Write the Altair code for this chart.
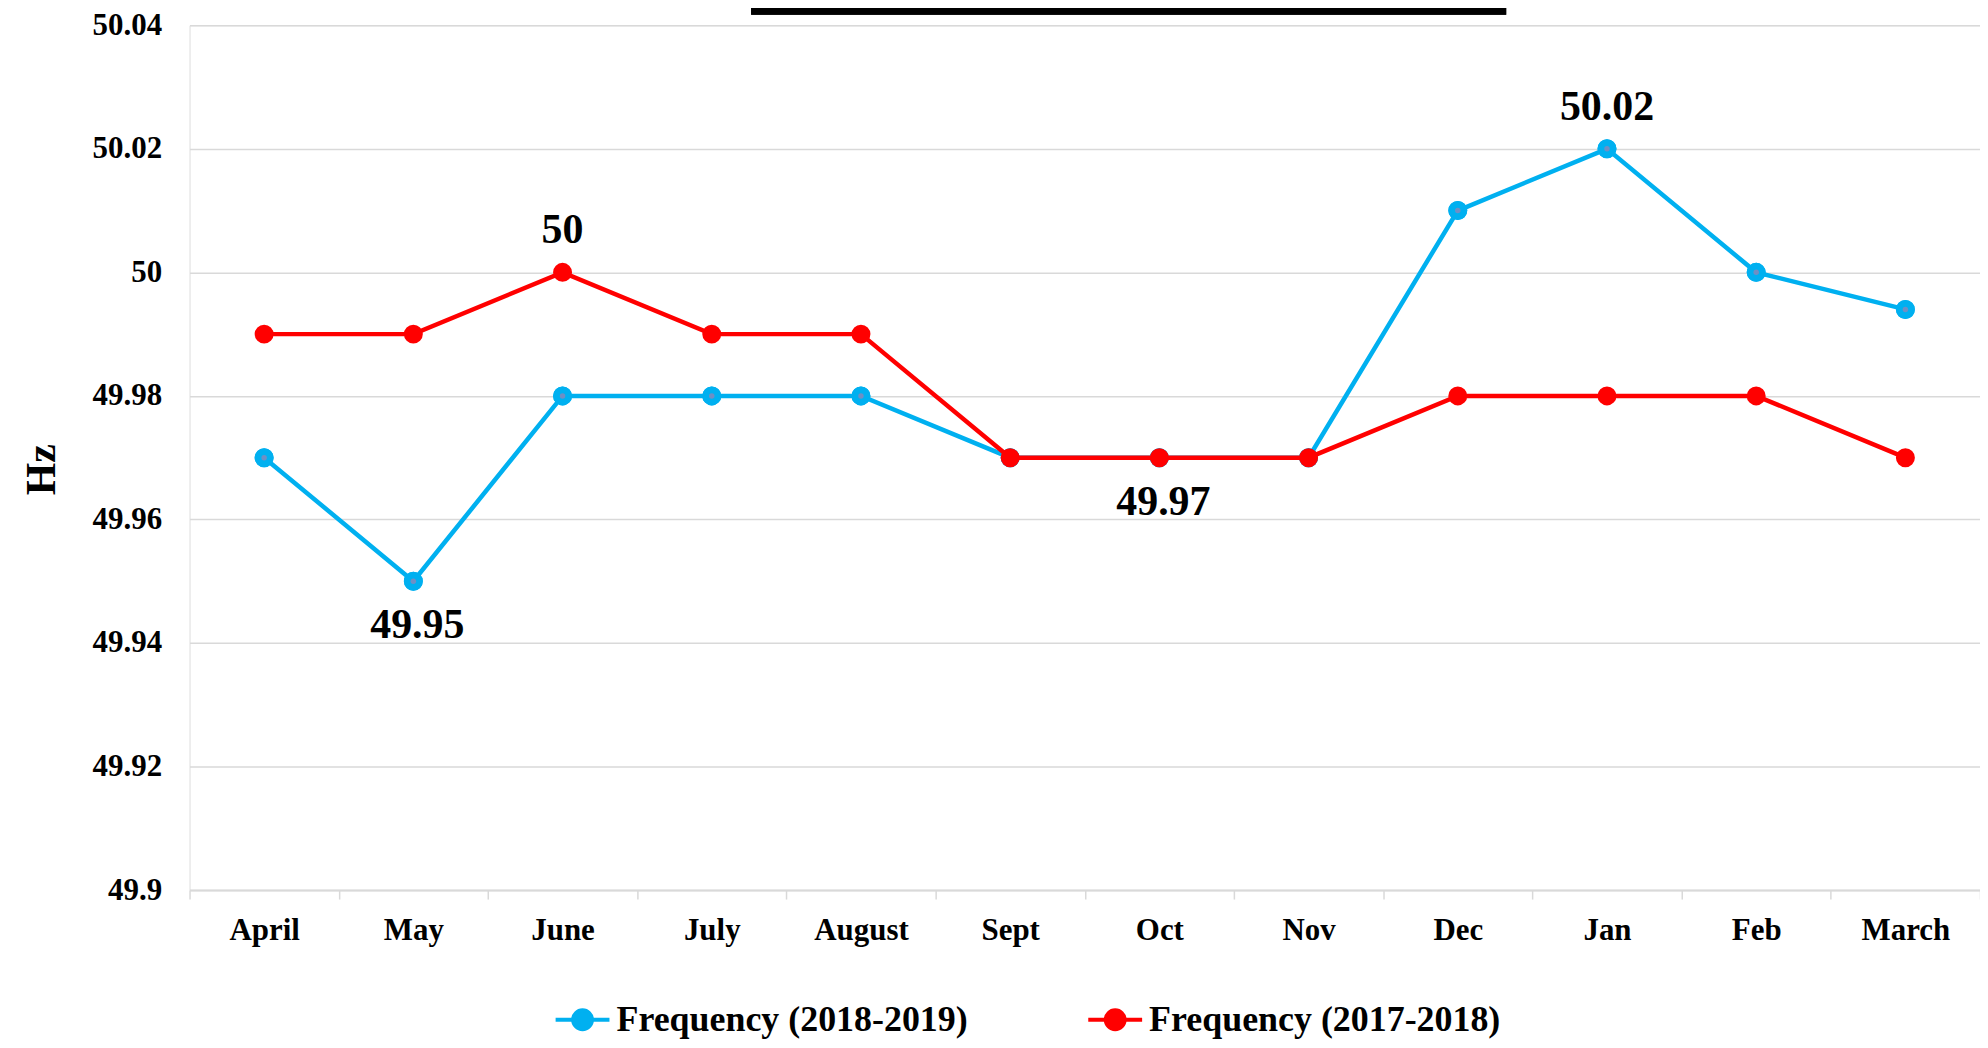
import altair as alt
import pandas as pd

months = ["April", "May", "June", "July", "August", "Sept", "Oct", "Nov", "Dec", "Jan", "Feb", "March"]
freq_2018_19 = [49.97, 49.95, 49.98, 49.98, 49.98, 49.97, 49.97, 49.97, 50.01, 50.02, 50.00, 49.994]
freq_2017_18 = [49.99, 49.99, 50.00, 49.99, 49.99, 49.97, 49.97, 49.97, 49.98, 49.98, 49.98, 49.97]
series_names = ["Frequency (2018-2019)", "Frequency (2017-2018)"]
series_colors = ["#00B0F0", "#FF0000"]

above_months = ["June", "Jan"]
above_values = [50.00, 50.02]
above_text = ["50", "50.02"]
below_months = ["May", "Oct"]
below_values = [49.95, 49.97]
below_text = ["49.95", "49.97"]

FONT = "Liberation Serif"

df = pd.DataFrame(
    {"month": months * 2,
     "value": freq_2018_19 + freq_2017_18,
     "series": [series_names[0]] * 12 + [series_names[1]] * 12}
)
df_above = pd.DataFrame({"month": above_months, "value": above_values, "label": above_text})
df_below = pd.DataFrame({"month": below_months, "value": below_values, "label": below_text})

x_enc = alt.X(
    "month:N", sort=months, title=None,
    scale=alt.Scale(paddingInner=0, paddingOuter=0),
    axis=alt.Axis(labelAngle=0, tickBand="extent", tickSize=9, tickColor="#d9d9d9",
                  tickWidth=1.5, domainColor="#d9d9d9", domainWidth=2,
                  labelFont=FONT, labelFontWeight="bold", labelFontSize=31,
                  labelColor="black", labelPadding=17, grid=False),
)
y_enc = alt.Y(
    "value:Q", title="Hz",
    scale=alt.Scale(domain=[49.9, 50.04], nice=False, zero=False),
    axis=alt.Axis(values=[49.9, 49.92, 49.94, 49.96, 49.98, 50.0, 50.02, 50.04],
                  labelExpr="format(datum.value, '.2~f')",
                  domain=False, ticks=False, grid=True, gridColor="#d9d9d9", gridWidth=1.5,
                  labelFont=FONT, labelFontWeight="bold", labelFontSize=31,
                  labelColor="black", labelPadding=28,
                  titleFont=FONT, titleFontWeight="bold", titleFontSize=42, titleColor="black",
                  titleX=-148, titleY=445, titleBaseline="middle", titleAngle=-90),
)

sym_path = "M-1,0L1,0M-0.35,0A0.35,0.35 0 1,0 0.35,0A0.35,0.35 0 1,0 -0.35,0Z"
color_scale = alt.Scale(domain=series_names, range=series_colors)
legend = alt.Legend(
    title=None, orient="none", direction="horizontal", legendX=365, legendY=968,
    symbolType=sym_path, symbolSize=2916, symbolStrokeWidth=4, labelOffset=5,
    columnPadding=112, labelFont=FONT, labelFontWeight="bold", labelFontSize=36,
    labelColor="black", labelLimit=0,
)

base = alt.Chart(df)

layers = []
for name in series_names:
    sub = base.transform_filter(alt.datum.series == name)
    pts = sub.mark_point(filled=True, size=290, opacity=1).encode(
        x=x_enc, y=y_enc,
        color=alt.Color("series:N", scale=color_scale, legend=legend),
        stroke=alt.Stroke("series:N", scale=color_scale, legend=legend),
    )
    line = sub.mark_line(strokeWidth=4.5).encode(
        x=x_enc, y=y_enc,
        color=alt.Color("series:N", scale=color_scale, legend=legend),
    )
    if name == series_names[0]:
        layers.append(pts)
        layers.append(line)
        layers.append(pts)
        layers.append(sub.mark_point(filled=True, size=30, color="#6f8fc4", opacity=1).encode(x=x_enc, y=y_enc))
    else:
        layers.append(line)
        layers.append(pts)

text_above = alt.Chart(df_above).mark_text(
    font=FONT, fontWeight="bold", fontSize=42, color="black", dy=-42, baseline="middle"
).encode(x=alt.X("month:N", sort=months), y="value:Q", text="label:N")
text_below = alt.Chart(df_below).mark_text(
    font=FONT, fontWeight="bold", fontSize=42, color="black", dy=44, dx=4, baseline="middle"
).encode(x=alt.X("month:N", sort=months), y="value:Q", text="label:N")

title_bar = alt.Chart(df_above).mark_rule(color="black", strokeWidth=7).encode(
    x=alt.value(563), x2=alt.value(1320), y=alt.value(-14)
)

chart = alt.layer(*layers, text_above, text_below, title_bar).properties(
    width=1795, height=867,
    autosize=alt.AutoSizeParams(type="none"),
    padding={"left": 182, "top": 16, "right": 0, "bottom": 149},
).configure_view(stroke=None).configure(background="white")

chart.save("out.html", embed_options={"renderer": "svg", "actions": False})
